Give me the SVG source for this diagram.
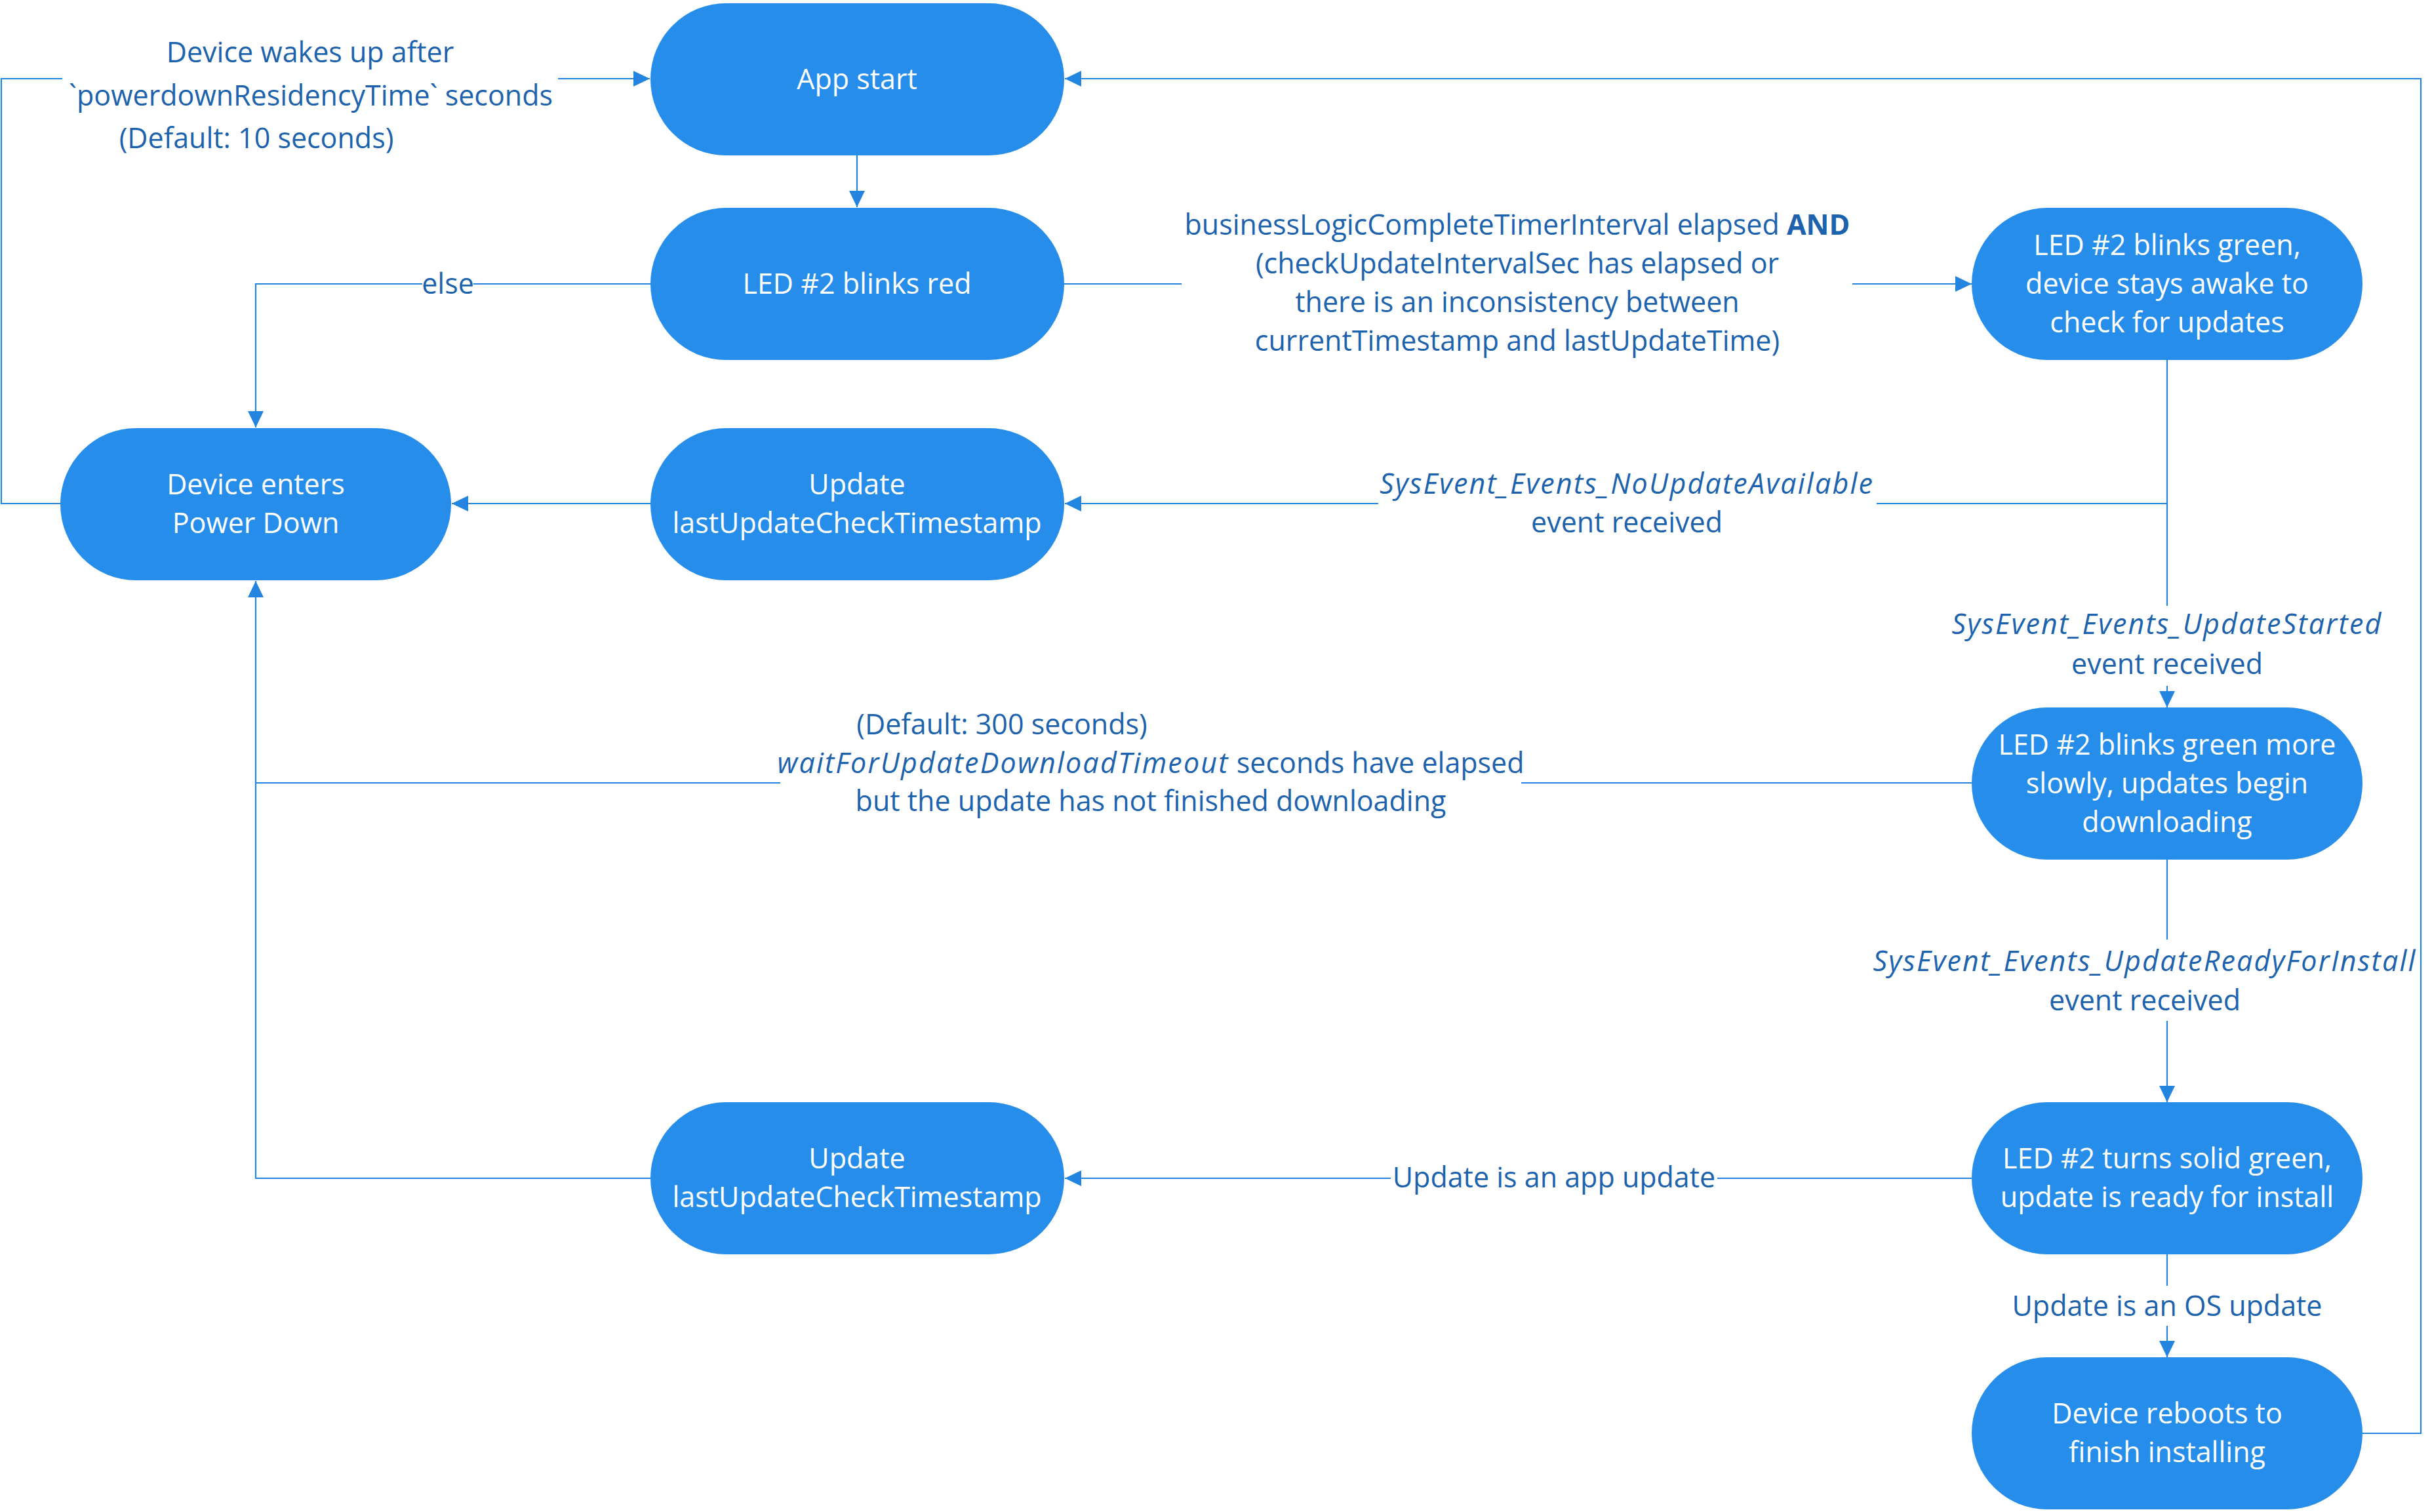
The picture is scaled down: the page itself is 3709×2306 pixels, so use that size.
<svg xmlns="http://www.w3.org/2000/svg" width="3709" height="2306" viewBox="0 0 3709 2306">
<style>
.node rect{fill:#268EEA;}
.node text{fill:#FFFFFF;font-family:"Open Sans","Segoe UI","Liberation Sans",sans-serif;font-size:43px;text-anchor:middle;}
.lbl{fill:#1C62AD;font-family:"Open Sans","Segoe UI","Liberation Sans",sans-serif;font-size:43px;text-anchor:middle;}
.it{font-style:italic;letter-spacing:2.2px;}
.b{font-weight:bold;}
#connectors path{fill:none;stroke:#2485E0;stroke-width:2.2;}
</style>
<defs>
<marker id="arr" markerUnits="userSpaceOnUse" markerWidth="25" markerHeight="24" viewBox="0 0 25 24" refX="25" refY="12" orient="auto">
<path d="M0,0 L25,12 L0,24 z" fill="#2485E0"/>
</marker>
</defs>
<rect width="3709" height="2306" fill="#FFFFFF"/>

<g id="connectors">
<path d="M1307,237 V316" marker-end="url(#arr)"/>
<path d="M1623,433 H1802"/>
<path d="M2825,433 H3007" marker-end="url(#arr)"/>
<path d="M992,433 H722"/>
<path d="M644,433 H390 V652" marker-end="url(#arr)"/>
<path d="M3305,549 V768 H2862"/>
<path d="M2102,768 H1624" marker-end="url(#arr)"/>
<path d="M3305,768 V924"/>
<path d="M3305,1046 V1079" marker-end="url(#arr)"/>
<path d="M992,768 H689" marker-end="url(#arr)"/>
<path d="M92,768 H2 V120 H95"/>
<path d="M851,120 H991" marker-end="url(#arr)"/>
<path d="M3007,1194 H2320"/>
<path d="M1190,1194 H390"/>
<path d="M992,1797 H390 V886" marker-end="url(#arr)"/>
<path d="M3305,1311 V1433"/>
<path d="M3305,1557 V1681" marker-end="url(#arr)"/>
<path d="M3007,1797 H2619"/>
<path d="M2121,1797 H1624" marker-end="url(#arr)"/>
<path d="M3305,1913 V1961"/>
<path d="M3305,2022 V2070" marker-end="url(#arr)"/>
<path d="M3603,2186 H3692 V120 H1624" marker-end="url(#arr)"/>
</g>

<g id="labels">
<text class="lbl" x="473" y="95">Device wakes up after</text>
<text class="lbl" x="474" y="161">`powerdownResidencyTime` seconds</text>
<text class="lbl" x="391" y="226">(Default: 10 seconds)</text>
<text class="lbl" x="683" y="448">else</text>
<text class="lbl" x="2314" y="358">businessLogicCompleteTimerInterval elapsed <tspan class="b">AND</tspan></text>
<text class="lbl" x="2314" y="417">(checkUpdateIntervalSec has elapsed or</text>
<text class="lbl" x="2314" y="476">there is an inconsistency between</text>
<text class="lbl" x="2314" y="535">currentTimestamp and lastUpdateTime)</text>
<text class="lbl it" x="2481" y="753">SysEvent_Events_NoUpdateAvailable</text>
<text class="lbl" x="2481" y="812">event received</text>
<text class="lbl it" x="3305" y="967">SysEvent_Events_UpdateStarted</text>
<text class="lbl" x="3305" y="1028">event received</text>
<text class="lbl" x="1528" y="1120">(Default: 300 seconds)</text>
<text class="lbl" x="1755" y="1179"><tspan class="it">waitForUpdateDownloadTimeout</tspan> seconds have elapsed</text>
<text class="lbl" x="1755" y="1237">but the update has not finished downloading</text>
<text class="lbl it" x="3271" y="1481">SysEvent_Events_UpdateReadyForInstall</text>
<text class="lbl" x="3271" y="1541">event received</text>
<text class="lbl" x="2370" y="1811">Update is an app update</text>
<text class="lbl" x="3305" y="2007">Update is an OS update</text>
</g>

<g id="n-appstart" class="node">
<rect x="992" y="5" width="631" height="232" rx="115" ry="116"/>
<text x="1307" y="136">App start</text>
</g>
<g id="n-ledred" class="node">
<rect x="992" y="317" width="631" height="232" rx="115" ry="116"/>
<text x="1307" y="448">LED #2 blinks red</text>
</g>
<g id="n-ledgreen" class="node">
<rect x="3007" y="317" width="596" height="232" rx="115" ry="116"/>
<text x="3305" y="389">LED #2 blinks green,</text>
<text x="3305" y="448">device stays awake to</text>
<text x="3305" y="507">check for updates</text>
</g>
<g id="n-powerdown" class="node">
<rect x="92" y="653" width="596" height="232" rx="115" ry="116"/>
<text x="390" y="754">Device enters</text>
<text x="390" y="813">Power Down</text>
</g>
<g id="n-update1" class="node">
<rect x="992" y="653" width="631" height="232" rx="115" ry="116"/>
<text x="1307" y="754">Update</text>
<text x="1307" y="813">lastUpdateCheckTimestamp</text>
</g>
<g id="n-ledslow" class="node">
<rect x="3007" y="1079" width="596" height="232" rx="115" ry="116"/>
<text x="3305" y="1151">LED #2 blinks green more</text>
<text x="3305" y="1210">slowly, updates begin</text>
<text x="3305" y="1269">downloading</text>
</g>
<g id="n-update2" class="node">
<rect x="992" y="1681" width="631" height="232" rx="115" ry="116"/>
<text x="1307" y="1782">Update</text>
<text x="1307" y="1841">lastUpdateCheckTimestamp</text>
</g>
<g id="n-ledsolid" class="node">
<rect x="3007" y="1681" width="596" height="232" rx="115" ry="116"/>
<text x="3305" y="1782">LED #2 turns solid green,</text>
<text x="3305" y="1841">update is ready for install</text>
</g>
<g id="n-reboot" class="node">
<rect x="3007" y="2070" width="596" height="232" rx="115" ry="116"/>
<text x="3305" y="2171">Device reboots to</text>
<text x="3305" y="2230">finish installing</text>
</g>
</svg>
